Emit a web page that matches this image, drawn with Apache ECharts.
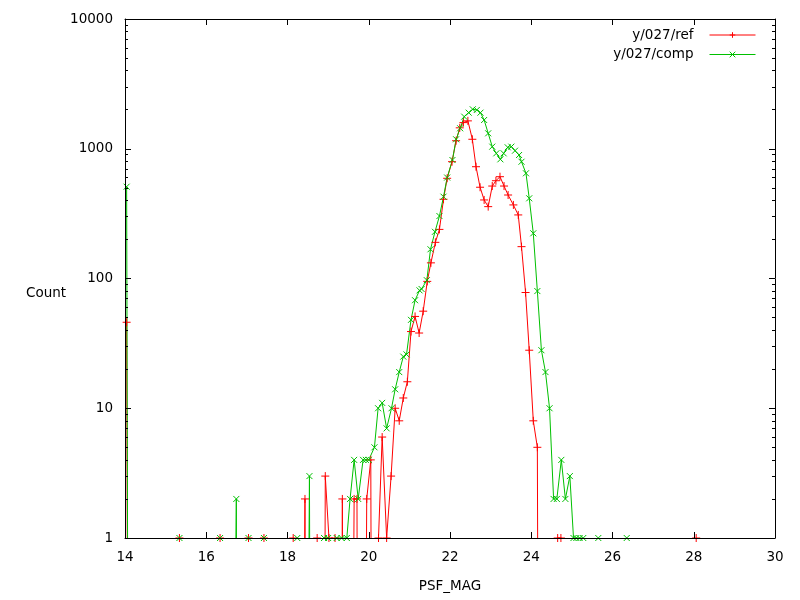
<!DOCTYPE html>
<html lang="en">
<head>
    <meta charset="UTF-8">
    <title>PSF_MAG histogram</title>
    <script src="https://cdn.jsdelivr.net/npm/echarts@6/dist/echarts.min.js"></script>
    <style>
        html, body { margin: 0; padding: 0; background: #fff; }
    </style>
</head>
<body>
<div id="main" style="width: 800px;height: 600px"></div>
<script>
    // y/027/ref  (0 = empty bin, gnuplot draws it as a drop to the bottom)
    var refMag = [14.04, 14.14, 15.34, 15.44, 16.34, 16.44, 17.04, 17.14, 17.42, 17.52,
        18.14, 18.24, 18.43, 18.53, 18.73, 18.83, 18.93, 19.02, 19.1, 19.17, 19.26, 19.35, 19.45,
        19.64, 19.71, 19.8, 19.95, 20.05, 20.14, 20.24, 20.33, 20.44, 20.55, 20.65, 20.75, 20.85,
        20.95, 21.04, 21.14, 21.24, 21.34, 21.44, 21.53, 21.64, 21.74, 21.84, 21.93, 22.05, 22.15,
        22.24, 22.33, 22.44, 22.55, 22.64, 22.74, 22.84, 22.94, 23.04, 23.13, 23.23, 23.33, 23.43,
        23.56, 23.68, 23.76, 23.86, 23.95, 24.05, 24.15, 24.25, 24.65, 24.73, 24.83, 28.06];
    var refCount = [46, 0, 1, 0, 1, 0, 1, 0, 1, 0,
        1, 0, 2, 0, 1, 0, 3, 1, 0, 1, 0, 2, 0,
        2, 2, 0, 2, 4, 0, 1, 6, 1, 3, 10, 8, 12,
        16, 39, 51, 38, 56, 95, 132, 190, 239, 408, 592, 795, 1153,
        1450, 1590, 1640, 1183, 727, 505, 403, 358, 516, 567, 609, 516, 440,
        369, 309, 176, 78, 28, 8, 5, 0, 1, 1, 0, 1];

    // y/027/comp
    var compMag = [14.04, 14.14, 15.34, 15.44, 16.34, 16.44, 16.74, 16.84, 17.04, 17.14, 17.42, 17.52,
        18.24, 18.34, 18.54, 18.64, 18.9, 19.0, 19.1, 19.21, 19.33, 19.46, 19.54, 19.64, 19.74,
        19.86, 19.93, 20.0, 20.14, 20.23, 20.33, 20.44, 20.56, 20.65, 20.75, 20.85, 20.93, 21.04,
        21.14, 21.25, 21.3, 21.43, 21.52, 21.63, 21.74, 21.84, 21.93, 22.06, 22.15, 22.25, 22.35,
        22.46, 22.56, 22.66, 22.75, 22.84, 22.94, 23.04, 23.14, 23.24, 23.32, 23.42, 23.51, 23.6,
        23.7, 23.76, 23.87, 23.95, 24.05, 24.15, 24.25, 24.35, 24.45, 24.55, 24.63, 24.74, 24.84,
        24.95, 25.04, 25.11, 25.19, 25.28, 25.38, 25.65, 25.75, 26.35];
    var compCount = [510, 0, 1, 0, 1, 0, 2, 0, 1, 0, 1, 0,
        1, 0, 3, 0, 1, 1, 0, 1, 1, 1, 2, 4, 2,
        4, 4, 4, 5, 10, 11, 7, 10, 14, 19, 25, 26, 48,
        68, 81, 83, 97, 168, 229, 303, 427, 600, 819, 1183, 1438, 1767,
        1897, 2014, 1991, 1897, 1666, 1315, 1038, 922, 829, 922, 1026, 1038, 966,
        895, 794, 647, 415, 223, 80, 28, 19, 10, 2, 2, 4, 2,
        3, 1, 1, 1, 1, 0, 1, 0, 1];

    var xTicks = [14, 16, 18, 20, 22, 24, 26, 28, 30];
    var yTicks = [1, 10, 100, 1000, 10000];
    var yMinorTicks = [2, 3, 4, 5, 6, 7, 8, 9, 20, 30, 40, 50, 60, 70, 80, 90,
        200, 300, 400, 500, 600, 700, 800, 900, 2000, 3000, 4000, 5000, 6000, 7000, 8000, 9000];

    var font = 'DejaVu Sans';
    var fontSize = 13.5;
    var plusSymbol = 'path://M0,4L8,4M4,0L4,8';
    var crossSymbol = 'path://M0,0L8,8M8,0L0,8';

    // empty bins: push far below the log axis so the line drops straight down and is clipped
    function pairs(mags, counts) {
        var out = [];
        for (var i = 0; i < mags.length; i++) {
            out.push([mags[i], counts[i] > 0 ? counts[i] : 1e-9]);
        }
        return out;
    }

    var myChart = echarts.init(document.getElementById('main'));

    function xAx(pos, showLabel) {
        return {
            type: 'value',
            position: pos,
            min: 14,
            max: 30,
            interval: 2,
            z: 5,
            name: showLabel ? 'PSF_MAG' : '',
            nameLocation: 'middle',
            nameGap: 41,
            nameTextStyle: {color: '#000', fontFamily: font, fontSize: fontSize},
            axisLine: {show: true, onZero: false, lineStyle: {color: '#000', width: 1}},
            axisTick: {show: true, inside: true, length: 6, customValues: xTicks, lineStyle: {color: '#000'}},
            axisLabel: {show: showLabel, margin: 12, color: '#000', fontFamily: font, fontSize: fontSize},
            splitLine: {show: false}
        };
    }

    function yAx(pos, minor, showLabel) {
        return {
            type: 'log',
            logBase: 10,
            position: pos,
            min: 1,
            max: 10000,
            z: 5,
            axisLine: {show: !minor, onZero: false, lineStyle: {color: '#000', width: 1}},
            axisTick: {
                show: true, inside: true, length: minor ? 3 : 6,
                customValues: minor ? yMinorTicks : yTicks,
                lineStyle: {color: '#000'}
            },
            axisLabel: {
                show: showLabel, margin: 12, color: '#000', fontFamily: font, fontSize: fontSize,
                customValues: yTicks,
                formatter: function (v) { return String(v); }
            },
            splitLine: {show: false}
        };
    }

    var option = {
        animation: false,
        backgroundColor: '#fff',
        // y label sits below the middle of the axis, as gnuplot puts it
        title: {
            text: 'Count',
            left: 26,
            top: 286,
            padding: 0,
            textStyle: {color: '#000', fontFamily: font, fontSize: fontSize, fontWeight: 'normal'}
        },
        grid: {left: 125, right: 25, top: 19, bottom: 62},
        legend: {
            orient: 'vertical',
            align: 'right',
            right: 44,
            top: 28,
            padding: 0,
            itemWidth: 46,
            itemHeight: 7,
            itemGap: 5.5,
            lineStyle: {width: 1, color: 'inherit'},
            itemStyle: {borderWidth: 1, color: 'inherit', borderColor: 'inherit'},
            textStyle: {color: '#000', fontFamily: font, fontSize: fontSize, padding: [0, 11, 0, 0]},
            data: ['y/027/ref', 'y/027/comp']
        },
        xAxis: [xAx('bottom', true), xAx('top', false)],
        yAxis: [yAx('left', false, true), yAx('left', true, false), yAx('right', false, false), yAx('right', true, false)],
        series: [{
            name: 'y/027/ref',
            type: 'line',
            data: pairs(refMag, refCount),
            symbol: plusSymbol,
            symbolSize: 8,
            showAllSymbol: true,
            clip: true,
            color: '#ff0000',
            lineStyle: {color: '#ff0000', width: 1},
            itemStyle: {color: '#ff0000', borderColor: '#ff0000', borderWidth: 1}
        }, {
            name: 'y/027/comp',
            type: 'line',
            data: pairs(compMag, compCount),
            symbol: crossSymbol,
            symbolSize: 6,
            showAllSymbol: true,
            clip: true,
            color: '#00c000',
            lineStyle: {color: '#00c000', width: 1},
            itemStyle: {color: '#00c000', borderColor: '#00c000', borderWidth: 1}
        }]
    };
    myChart.setOption(option);
</script>
</body>
</html>
